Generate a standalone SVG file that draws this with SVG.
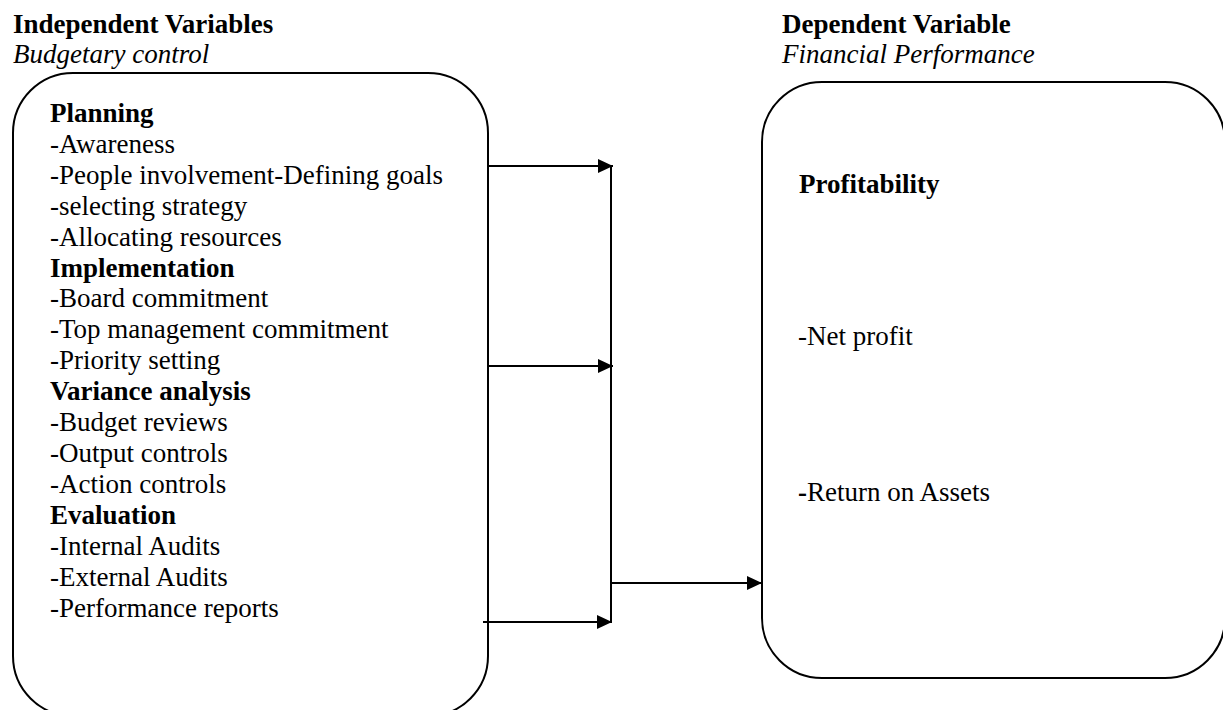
<svg xmlns="http://www.w3.org/2000/svg" width="1223" height="710" viewBox="0 0 1223 710">
  <style>
    text { font-family: "Liberation Serif", "Times New Roman", serif; font-size: 27px; fill: #000; }
    .b { font-weight: bold; }
    .i { font-style: italic; }
    .box { fill: #fff; stroke: #000; stroke-width: 2; }
    .link { fill: none; stroke: #000; stroke-width: 2; }
  </style>
  <defs>
    <marker id="arrow" viewBox="0 0 15 14" refX="15" refY="7" markerWidth="15" markerHeight="14" markerUnits="userSpaceOnUse" orient="auto">
      <path d="M0,0 L15,7 L0,14 Z" fill="#000"/>
    </marker>
  </defs>
  <rect width="1223" height="710" fill="#fff"/>

  <!-- Column headings -->
  <g id="heading-independent">
    <text x="13" y="33" class="b">Independent Variables</text>
    <text x="13" y="63" class="i">Budgetary control</text>
  </g>
  <g id="heading-dependent">
    <text x="782" y="33" class="b">Dependent Variable</text>
    <text x="782" y="63" class="i">Financial Performance</text>
  </g>

  <!-- Budgetary control box -->
  <g id="node-budgetary-control">
    <rect class="box" x="13" y="73" width="475" height="643" rx="60" ry="60"/>
    <text x="50" y="122" class="b">Planning</text>
    <text x="50" y="153">-Awareness</text>
    <text x="50" y="184">-People involvement-Defining goals</text>
    <text x="50" y="215">-selecting strategy</text>
    <text x="50" y="246">-Allocating resources</text>
    <text x="50" y="277" class="b">Implementation</text>
    <text x="50" y="307">-Board commitment</text>
    <text x="50" y="338">-Top management commitment</text>
    <text x="50" y="369">-Priority setting</text>
    <text x="50" y="400" class="b">Variance analysis</text>
    <text x="50" y="431">-Budget reviews</text>
    <text x="50" y="462">-Output controls</text>
    <text x="50" y="493">-Action controls</text>
    <text x="50" y="524" class="b">Evaluation</text>
    <text x="50" y="555">-Internal Audits</text>
    <text x="50" y="586">-External Audits</text>
    <text x="50" y="617">-Performance reports</text>
  </g>

  <!-- Financial performance box -->
  <g id="node-financial-performance">
    <rect class="box" x="762" y="82" width="463" height="596" rx="60" ry="60"/>
    <text x="799" y="193" class="b">Profitability</text>
    <text x="798" y="345">-Net profit</text>
    <text x="798" y="501"><tspan class="b">-</tspan>Return on Assets</text>
  </g>

  <!-- Connectors -->
  <g id="connectors">
    <line class="link" x1="488" y1="166" x2="613" y2="166" marker-end="url(#arrow)"/>
    <line class="link" x1="488" y1="366" x2="613" y2="366" marker-end="url(#arrow)"/>
    <line class="link" x1="483" y1="622" x2="612" y2="622" marker-end="url(#arrow)"/>
    <line class="link" x1="611" y1="166" x2="611" y2="623"/>
    <line class="link" x1="611" y1="583" x2="762" y2="583" marker-end="url(#arrow)"/>
  </g>
</svg>
